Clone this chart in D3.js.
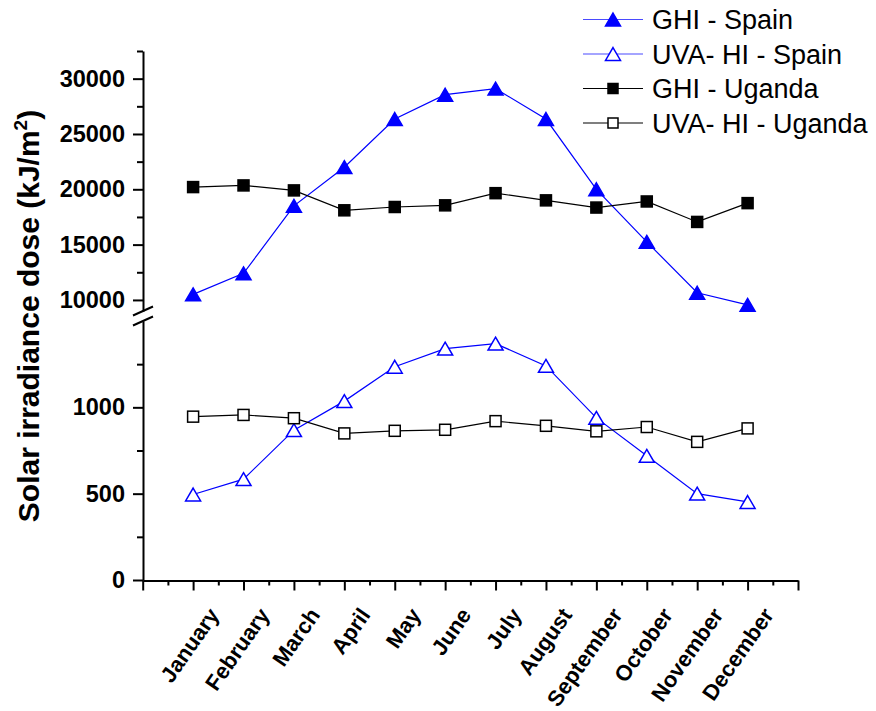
<!DOCTYPE html>
<html>
<head>
<meta charset="utf-8">
<script src="https://cdn.jsdelivr.net/npm/d3@7"></script>
<style>
  body { margin: 0; background: #fff; }
  svg { display: block; font-family: "Liberation Sans", Arial, sans-serif; }
</style>
</head>
<body>
<div id="chart"></div>
<script>
const months = ['January', 'February', 'March', 'April', 'May', 'June', 'July',
                'August', 'September', 'October', 'November', 'December'];
const ghiSpain = [10500, 12400, 18500, 22000, 26350, 28550, 29100, 26350, 20000, 15250, 10650, 9550];
const uvaSpain = [495, 584, 868, 1036, 1235, 1340, 1369, 1240, 939, 719, 500, 452];
const ghiUganda = [20200, 20350, 19900, 18100, 18400, 18550, 19650, 19000, 18350, 18900, 17050, 18750];
const uvaUganda = [946, 956, 937, 849, 864, 870, 920, 893, 861, 886, 800, 878];
const upperTicks = [10000, 15000, 20000, 25000, 30000];
const lowerTicks = [0, 500, 1000];

const w = 876;
const h = 711;

const svg = d3.select('#chart')
  .append('svg')
  .attr('width', w)
  .attr('height', h);

// x: category index 0..13, months sit on 1..12
const xScale = d3.scaleLinear().domain([0, 13]).range([142.7, 798]);
// broken y axis: two linear pieces
const yHi = d3.scaleLinear().domain([9000, 32500]).range([311, 51]);
const yLo = d3.scaleLinear().domain([0, 1500]).range([580, 321]);

const axisX = 143;

// x axis
const xAxis = d3.axisBottom(xScale)
  .tickValues(d3.range(0, 14))
  .tickSize(10)
  .tickSizeOuter(0)
  .tickFormat('');
const gx = svg.append('g')
  .attr('transform', 'translate(0,' + 580.5 + ')')
  .call(xAxis);
gx.selectAll('line').attr('stroke-width', 2);
gx.select('.domain').attr('stroke-width', 2);

svg.append('g')
  .attr('transform', 'translate(0,' + 580.5 + ')')
  .call(d3.axisBottom(xScale).tickValues(d3.range(0.5, 13, 1)).tickSize(5).tickSizeOuter(0).tickFormat(''))
  .call(g => g.select('.domain').remove())
  .selectAll('line').attr('stroke-width', 2);

// month labels, rotated
svg.append('g').selectAll('text')
  .data(months)
  .enter()
  .append('text')
  .attr('transform', (d, i) => 'translate(' + (xScale(i + 1) + 27) + ',' + 615 + ') rotate(-55)')
  .attr('text-anchor', 'end')
  .style('font-size', '22px')
  .style('font-weight', 'bold')
  .text(d => d);

// upper y axis
const gHi = svg.append('g')
  .attr('transform', 'translate(' + axisX + ',0)')
  .call(d3.axisLeft(yHi).tickValues(upperTicks).tickSize(10).tickSizeOuter(0).tickPadding(8).tickFormat(d3.format('d')));
gHi.select('.domain').attr('stroke-width', 2);
gHi.selectAll('line').attr('stroke-width', 2);
gHi.selectAll('text').style('font-size', '23.5px').style('font-weight', 'bold').attr('fill', '#000');

svg.append('g')
  .attr('transform', 'translate(' + axisX + ',0)')
  .call(d3.axisLeft(yHi).tickValues([12500, 17500, 22500, 27500, 32500]).tickSize(6).tickFormat(''))
  .call(g => g.select('.domain').remove())
  .selectAll('line').attr('stroke-width', 2);

// lower y axis
const gLo = svg.append('g')
  .attr('transform', 'translate(' + axisX + ',0)')
  .call(d3.axisLeft(yLo).tickValues(lowerTicks).tickSize(10).tickSizeOuter(0).tickPadding(8).tickFormat(d3.format('d')));
gLo.select('.domain').attr('stroke-width', 2);
gLo.selectAll('line').attr('stroke-width', 2);
gLo.selectAll('text').style('font-size', '23.5px').style('font-weight', 'bold').attr('fill', '#000');

svg.append('g')
  .attr('transform', 'translate(' + axisX + ',0)')
  .call(d3.axisLeft(yLo).tickValues([250, 750, 1250]).tickSize(6).tickFormat(''))
  .call(g => g.select('.domain').remove())
  .selectAll('line').attr('stroke-width', 2);

// break marks
const breakYs = [yHi(9000), yLo(1500)];
svg.append('g').selectAll('line')
  .data(breakYs)
  .enter()
  .append('line')
  .attr('x1', axisX - 10).attr('y1', d => d + 4.5)
  .attr('x2', axisX + 10).attr('y2', d => d - 4.5)
  .attr('stroke', '#000')
  .attr('stroke-width', 2);

// y title
const title = svg.append('text')
  .attr('transform', 'translate(39,316) rotate(-90)')
  .attr('text-anchor', 'middle')
  .style('font-size', '30px')
  .style('font-weight', 'bold');
title.append('tspan').text('Solar irradiance dose (kJ/m');
title.append('tspan').text('2').attr('dy', -12).style('font-size', '19px');
title.append('tspan').text(')').attr('dy', 12);

// markers
const triPath = (cx, cy, s) => {
  const hw = s / 2, hh = s * 0.43;
  return 'M' + cx + ',' + (cy - hh) + 'L' + (cx + hw) + ',' + (cy + hh) + 'L' + (cx - hw) + ',' + (cy + hh) + 'Z';
};

const series = [
  { name: 'GHI - Spain', values: ghiSpain, y: yHi, color: '#0000ff', shape: 'tri', fill: '#0000ff' },
  { name: 'UVA- HI - Spain', values: uvaSpain, y: yLo, color: '#0000ff', shape: 'tri', fill: '#fff' },
  { name: 'GHI - Uganda', values: ghiUganda, y: yHi, color: '#000', shape: 'sq', fill: '#000' },
  { name: 'UVA- HI - Uganda', values: uvaUganda, y: yLo, color: '#000', shape: 'sq', fill: '#fff' }
];

function drawMarker(g, shape, cx, cy, color, fill, size) {
  if (shape === 'tri') {
    g.append('path')
      .attr('d', triPath(cx, cy, size))
      .attr('fill', fill)
      .attr('stroke', color)
      .attr('stroke-width', 1.5);
  } else {
    g.append('rect')
      .attr('x', cx - size / 2).attr('y', cy - size / 2)
      .attr('width', size).attr('height', size)
      .attr('fill', fill)
      .attr('stroke', color)
      .attr('stroke-width', 1.5);
  }
}

series.forEach(s => {
  const line = d3.line()
    .x((d, i) => xScale(i + 1))
    .y(d => s.y(d));
  svg.append('path')
    .datum(s.values)
    .attr('d', line)
    .attr('fill', 'none')
    .attr('stroke', s.color)
    .attr('stroke-width', 1.2);
});

series.forEach(s => {
  const g = svg.append('g');
  s.values.forEach((v, i) => {
    drawMarker(g, s.shape, xScale(i + 1), s.y(v), s.color, s.fill, s.shape === 'tri' ? 15 : 11);
  });
});

// legend
const legend = svg.append('g');
series.forEach((s, i) => {
  const ly = 19.5 + i * 34.5;
  legend.append('line')
    .attr('x1', 583).attr('x2', 643)
    .attr('y1', ly).attr('y2', ly)
    .attr('stroke', s.color === '#0000ff' ? '#4a4aff' : s.color)
    .attr('stroke-width', 1.2);
  drawMarker(legend, s.shape, 613, ly, s.color, s.fill, s.shape === 'tri' ? 15 : 10);
  legend.append('text')
    .attr('x', 652)
    .attr('y', ly + 9.5)
    .style('font-size', '27px')
    .text(s.name);
});
</script>
</body>
</html>
